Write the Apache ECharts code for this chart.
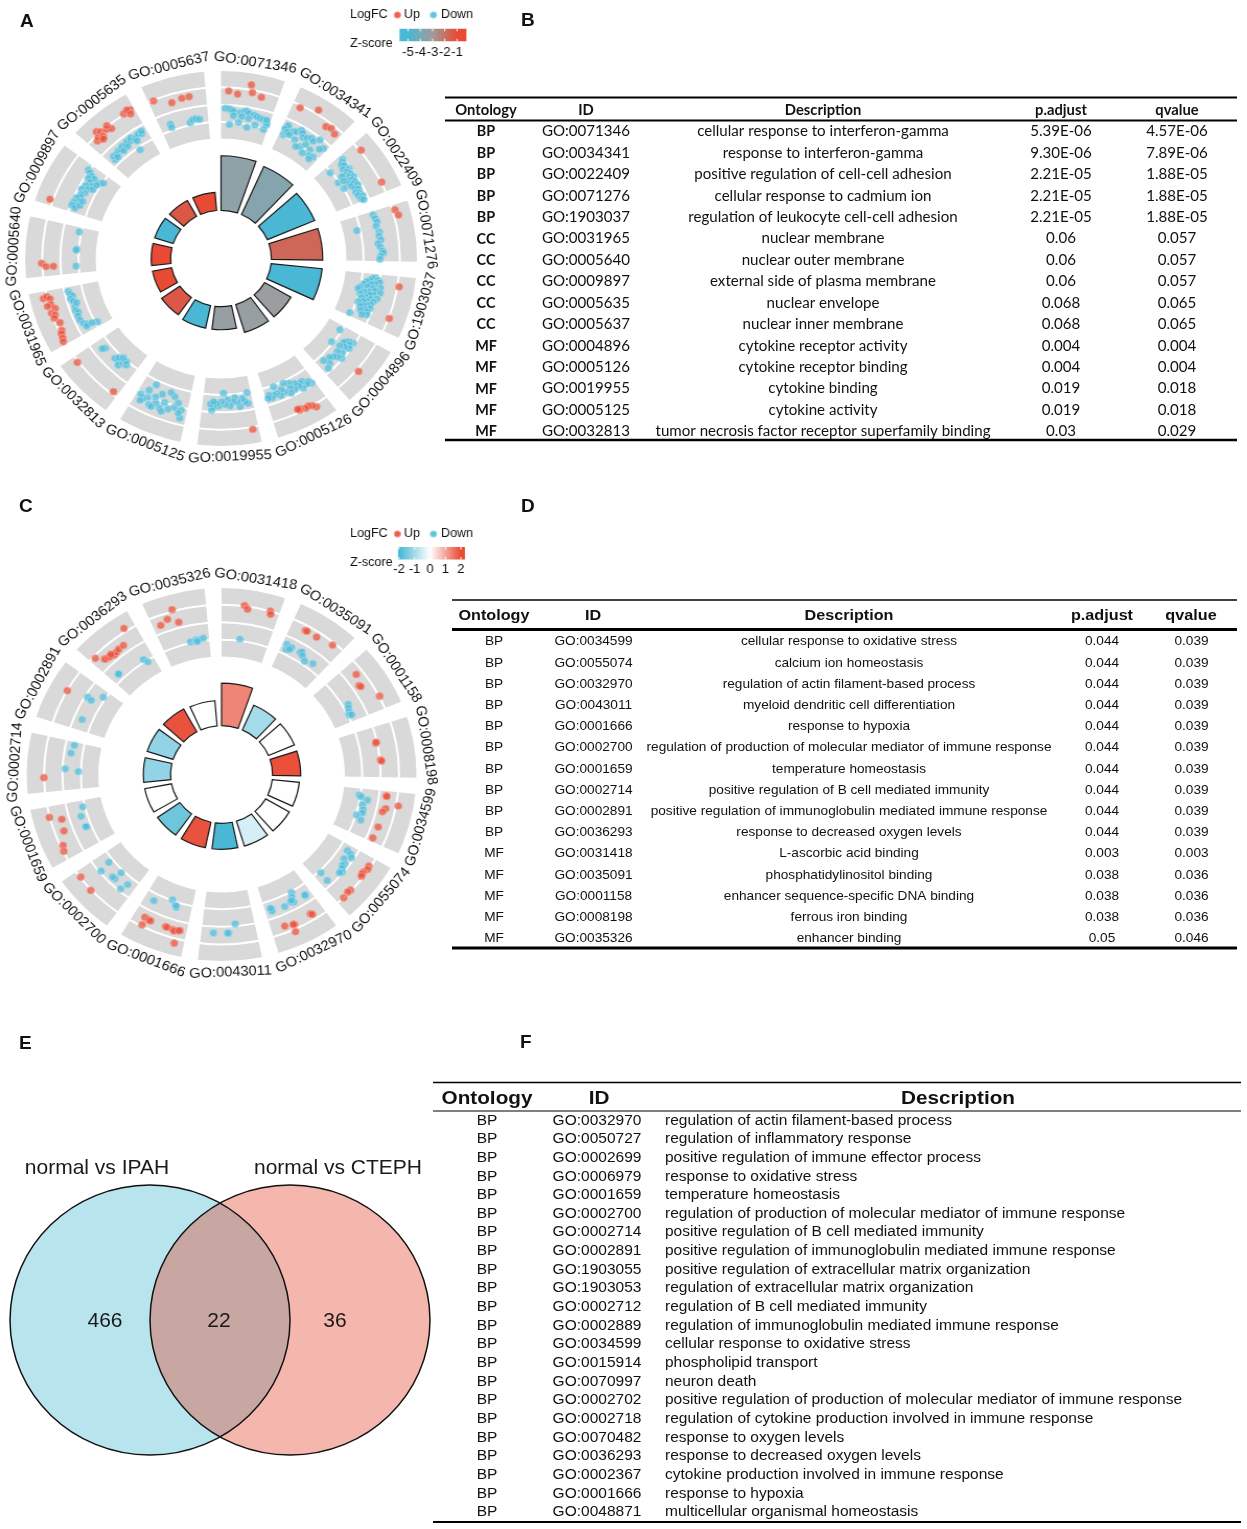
<!DOCTYPE html>
<html><head><meta charset="utf-8">
<script src="https://cdn.jsdelivr.net/npm/echarts@6/dist/echarts.min.js"></script>
<style>
html,body{margin:0;padding:0;background:#fff}
#c{position:absolute;left:0;top:0;width:1247px;height:1529px}
.ov{position:absolute;left:0;width:460px;height:490px;transform:scaleX(1.045);transform-origin:0 0}
#pa{top:0}
#pc{top:500px}
</style>
</head><body><div id="c"></div><div id="pa" class="ov"></div><div id="pc" class="ov"></div>
<script>
// ---------------- DATA ----------------
// Panel A circle order (clockwise from top)
const idsA = ['GO:0071346','GO:0034341','GO:0022409','GO:0071276','GO:1903037','GO:0004896','GO:0005126','GO:0019955','GO:0005125','GO:0032813','GO:0031965','GO:0005640','GO:0009897','GO:0005635','GO:0005637'];
const zA = [-3.4,-3.6,-5,-1.7,-5,-3.1,-3.2,-3.2,-5,-1.35,-1,-1,-5,-1.35,-1];
// genes: [segment, position in segment 0..1, logFC (radial)]
const upA = [
[0,0.13,0.8],[0,0.29,0.66],[0,0.5,1.28],[0,0.54,0.85],[0,0.71,0.69],
[1,0.14,0.86],[1,0.43,1.24],[1,0.7,0.69],[1,0.79,0.79],[1,0.9,0.66],
[2,0.16,1.07],[2,0.82,1.03],
[3,0.09,1.13],[3,0.19,1.24],
[4,0.18,1.09],[4,0.76,1.04],
[5,0.56,1.13],
[6,0.23,1.18],[6,0.28,1.0],[6,0.34,0.91],[6,0.4,0.95],[6,0.48,0.85],[6,0.51,0.88],[6,0.53,0.8],
[7,0.1,1.14],
[9,0.89,1.07],[9,0.09,0.84],
[10,0.88,1.2],[10,0.9,1.0],[10,0.85,0.85],[10,0.75,0.9],[10,0.73,1.1],[10,0.66,0.73],[10,0.6,1.0],[10,0.55,0.85],[10,0.5,0.95],[10,0.39,0.76],[10,0.25,0.85],[10,0.2,0.95],[10,0.12,1.0],[10,0.06,1.07],
[11,0.23,1.03],[11,0.17,0.8],[11,0.17,0.39],
[12,0.1,1.17],
[13,0.25,1.17],[13,0.3,1.0],[13,0.4,0.9],[13,0.48,0.76],[13,0.45,1.05],[13,0.8,1.05],[13,0.93,1.06],[13,0.88,1.15],[13,0.9,0.85],[13,0.15,0.75],[13,0.2,0.85],[13,0.23,0.68],[13,0.28,0.72],[13,0.25,0.6],
[14,0.09,0.95],[14,0.38,0.52],[14,0.57,0.62],[14,0.7,0.63]
];
const downA = [
[0,0.08,-0.2],[0,0.15,-0.22],[0,0.2,-0.28],[0,0.25,-0.35],[0,0.38,-0.4],[0,0.45,-0.3],[0,0.5,-0.25],[0,0.55,-0.35],[0,0.65,-0.4],[0,0.72,-0.45],[0,0.78,-0.5],[0,0.85,-0.52],[0,0.93,-0.6],[0,0.95,-0.75],[0,0.18,-1.12],[0,0.37,-0.95],[0,0.56,-1.17],[0,0.72,-0.95],[0,0.92,-1.06],[0,0.92,-0.5],[0,0.56,-0.65],[0,0.42,-0.6],[0,0.25,-0.6],
[1,0.09,-0.46],[1,0.1,-0.35],[1,0.07,-0.6],[1,0.09,-0.95],[1,0.14,-0.7],[1,0.24,-0.53],[1,0.2,-0.8],[1,0.3,-0.45],[1,0.37,-0.25],[1,0.42,-0.35],[1,0.47,-0.55],[1,0.55,-0.45],[1,0.62,-0.32],[1,0.68,-0.4],[1,0.77,-0.12],[1,0.53,-1.08],[1,0.6,-0.8],[1,0.74,-0.91],[1,0.8,-1.2],[1,0.89,-1.1],[1,0.85,-1.35],[1,0.93,-0.37],[1,0.88,-0.55],[1,0.35,-0.9],[1,0.45,-1.2],[1,0.65,-1.3],
[2,0.08,-0.05],[2,0.12,-0.15],[2,0.15,-0.3],[2,0.2,-0.2],[2,0.25,-0.4],[2,0.3,-0.1],[2,0.33,-0.3],[2,0.37,-0.5],[2,0.4,-0.2],[2,0.44,-0.35],[2,0.48,-0.15],[2,0.5,-0.45],[2,0.52,-0.3],[2,0.55,-0.6],[2,0.58,-0.25],[2,0.6,-0.4],[2,0.63,-0.55],[2,0.66,-0.2],[2,0.7,-0.45],[2,0.74,-0.3],[2,0.78,-0.5],[2,0.82,-0.35],[2,0.86,-0.45],[2,0.9,-0.25],[2,0.94,-0.4],[2,0.98,-0.3],[2,0.14,-1.07],[2,0.42,-1.06],[2,0.59,-0.96],[2,0.35,-0.7],[2,0.45,-0.75],
[3,0.07,-0.1],[3,0.15,-0.05],[3,0.22,0.0],[3,0.3,-0.1],[3,0.42,0.0],[3,0.5,-0.05],[3,0.58,0.02],[3,0.65,-0.15],[3,0.72,-0.05],[3,0.8,0.05],[3,0.84,0.1],[3,0.9,-0.05],[3,0.96,-0.1],[3,0.31,-1.2],
[4,0.08,-0.3],[4,0.1,-0.4],[4,0.12,-0.1],[4,0.14,-0.55],[4,0.16,0.0],[4,0.18,-0.7],[4,0.2,-0.25],[4,0.22,-0.45],[4,0.24,-0.85],[4,0.26,0.1],[4,0.28,-0.6],[4,0.3,-0.3],[4,0.32,-1.0],[4,0.34,-0.15],[4,0.36,0.14],[4,0.36,-1.1],[4,0.38,-0.5],[4,0.4,-0.75],[4,0.42,-0.2],[4,0.44,-0.4],[4,0.46,-0.93],[4,0.48,0.05],[4,0.5,-0.6],[4,0.52,-0.3],[4,0.54,-0.8],[4,0.56,-0.1],[4,0.58,-0.45],[4,0.6,-0.65],[4,0.62,-0.2],[4,0.64,-0.9],[4,0.66,-0.35],[4,0.68,-0.55],[4,0.7,-0.15],[4,0.72,-0.7],[4,0.75,-0.4],[4,0.78,-0.25],[4,0.8,-0.6],[4,0.84,-0.2],[4,0.87,-0.45],[4,0.93,-1.1],
[5,0.11,-1.12],[5,0.2,-0.08],[5,0.22,-0.3],[5,0.25,-0.43],[5,0.27,-0.2],[5,0.3,-0.55],[5,0.33,-0.1],[5,0.36,-0.35],[5,0.4,-0.6],[5,0.43,-1.1],[5,0.48,-0.25],[5,0.52,-0.5],[5,0.57,-0.06],[5,0.6,-0.3],[5,0.65,-0.47],[5,0.72,-0.6],[5,0.8,-0.35],[5,0.89,-0.2],[5,0.85,-0.7],
[6,0.06,-0.1],[6,0.1,-0.3],[6,0.15,-0.2],[6,0.2,-0.5],[6,0.25,-0.45],[6,0.25,-0.11],[6,0.3,-0.35],[6,0.35,-0.6],[6,0.4,-0.3],[6,0.45,-0.75],[6,0.47,-0.46],[6,0.5,-0.2],[6,0.55,-0.89],[6,0.6,-0.4],[6,0.65,-0.6],[6,0.7,-0.3],[6,0.76,-0.5],[6,0.77,-0.93],[6,0.82,-0.45],[6,0.88,-0.35],[6,0.92,-0.55],[6,0.95,-0.39],
[7,0.08,-1.0],[7,0.1,-0.38],[7,0.15,-0.5],[7,0.2,-0.7],[7,0.26,-0.26],[7,0.3,-0.55],[7,0.35,-0.8],[7,0.39,-0.58],[7,0.45,-0.35],[7,0.5,-0.7],[7,0.55,-0.45],[7,0.58,-1.09],[7,0.62,-0.6],[7,0.68,-0.35],[7,0.72,-0.5],[7,0.78,-0.31],[7,0.81,-0.11],[7,0.84,-0.45],[7,0.78,-0.6],
[8,0.1,0.62],[8,0.11,0.14],[8,0.15,0.35],[8,0.2,-0.2],[8,0.25,0.1],[8,0.3,-0.5],[8,0.35,0.3],[8,0.4,-0.66],[8,0.45,0.0],[8,0.5,0.4],[8,0.55,-0.4],[8,0.6,0.2],[8,0.65,-0.1],[8,0.7,0.45],[8,0.74,-0.75],[8,0.78,0.1],[8,0.82,-0.3],[8,0.85,0.3],[8,0.88,0.44],[8,0.92,0.1],[8,0.65,0.5],[8,0.45,0.55],
[9,0.79,-0.64],[9,0.82,-0.5],[9,0.4,-0.64],[9,0.5,-0.66],[9,0.45,-0.85],[9,0.35,-0.5],[9,0.3,-0.75],[9,0.23,-0.8],[9,0.28,-0.95],[9,0.38,-1.0],
[10,0.91,-0.22],[10,0.85,-0.3],[10,0.8,-0.4],[10,0.75,-0.25],[10,0.7,-0.35],[10,0.58,-0.35],[10,0.5,-0.3],[10,0.45,-0.4],[10,0.38,-0.3],[10,0.29,-0.31],[10,0.2,-0.4],[10,0.15,-0.6],[10,0.12,-0.49],[10,0.1,-1.13],[10,0.13,-0.85],[10,0.65,-0.5],
[11,0.9,-0.89],[11,0.52,-0.89],[11,0.5,-0.85],[11,0.15,-0.85],
[12,0.89,0.06],[12,0.86,-0.1],[12,0.82,-0.3],[12,0.79,-0.9],[12,0.83,-1.06],[12,0.8,-0.5],[12,0.75,-0.2],[12,0.7,-0.4],[12,0.65,-0.6],[12,0.6,-0.3],[12,0.55,-0.5],[12,0.5,-0.2],[12,0.45,-0.45],[12,0.4,-0.3],[12,0.35,-0.3],[12,0.3,-0.15],[12,0.25,-0.35],[12,0.2,-0.1],[12,0.15,-0.25],[12,0.13,-0.07],[12,0.1,-0.3],[12,0.18,-0.5],[12,0.28,-0.55],[12,0.6,-0.75],[12,0.72,-0.8],
[13,0.12,-0.71],[13,0.15,-0.5],[13,0.22,-0.55],[13,0.3,-0.45],[13,0.35,-0.5],[13,0.41,-0.4],[13,0.48,-0.45],[13,0.55,-0.35],[13,0.6,-0.45],[13,0.65,-0.3],[13,0.7,-0.5],[13,0.76,-0.44],[13,0.82,-0.35],[13,0.88,-0.45],[13,0.9,-0.3],[13,0.66,-1.17],[13,0.5,-0.6],[13,0.38,-0.65],[13,0.2,-0.7],[13,0.72,-0.65],
[14,0.22,-0.63],[14,0.22,-0.83],[14,0.62,-0.85],[14,0.68,-0.7],[14,0.75,-0.68],[14,0.82,-0.75]
];

// Panel C circle order
const idsC = ['GO:0031418','GO:0035091','GO:0001158','GO:0008198','GO:0034599','GO:0055074','GO:0032970','GO:0043011','GO:0001666','GO:0002700','GO:0001659','GO:0002714','GO:0002891','GO:0036293','GO:0035326'];
const zC = [1.35,-1.0,0,1.95,0,0,-0.45,-2,1.9,-1.6,0,-1.2,-1.2,1.9,0];
const upC = [
[0,0.39,1.03],[0,0.45,0.85],[0,0.84,1.0],[0,0.86,0.83],
[1,0.27,0.71],[1,0.3,0.72],[1,0.5,0.71],[1,0.81,0.86],
[2,0.22,0.62],[2,0.42,0.37],[2,0.45,0.42],[2,0.77,1.03],
[3,0.32,-0.08],[3,0.3,-0.05],[3,0.66,0.04],[3,0.68,0.08],
[4,0.09,0.39],[4,0.1,0.42],[4,0.24,1.12],[4,0.33,0.48],[4,0.4,0.35],[4,0.7,0.37],[4,0.93,0.33],
[5,0.16,0.9],[5,0.22,0.95],[5,0.3,0.85],[5,0.34,0.84],[5,0.38,0.9],[5,0.69,0.96],[5,0.75,0.92],[5,0.87,1.0],
[6,0.24,0.62],[6,0.22,0.7],[6,0.58,0.74],[6,0.6,0.72],[6,0.75,0.62],[6,0.62,1.14],
[8,0.8,0.47],[8,0.72,0.5],[8,0.68,0.52],[8,0.78,0.92],[8,0.39,0.51],[8,0.36,0.52],[8,0.25,0.55],[8,0.22,0.6],[8,0.12,0.5],[8,0.14,0.52],[8,0.16,1.27],
[9,0.88,0.97],[9,0.59,1.04],
[10,0.81,1.02],[10,0.72,0.4],[10,0.5,0.5],[10,0.26,0.86],[10,0.16,0.97],
[11,0.26,1.01],
[12,0.61,0.99],
[13,0.81,1.2],[13,0.1,0.87],[13,0.2,0.49],[13,0.22,0.45],[13,0.28,0.4],[13,0.32,0.38],[13,0.39,0.3],[13,0.45,0.35],[13,0.52,0.4],[13,0.63,0.42],[13,0.35,0.45],
[14,0.42,1.09],[14,0.29,0.64],[14,0.14,0.44],[14,0.47,0.31]
];
const downC = [
[0,0.39,-0.9],
[1,0.09,-0.45],[1,0.12,-0.72],[1,0.15,-0.55],[1,0.2,-0.5],[1,0.18,-0.65],[1,0.4,-0.5],[1,0.43,-0.43],[1,0.48,-0.6],[1,0.58,-0.78],[1,0.75,-0.63],
[2,0.63,-0.69],[2,0.7,-0.78],[2,0.78,-0.85],[2,0.84,-0.92],[2,0.86,-0.8],
[4,0.15,-1.07],[4,0.18,-0.95],[4,0.23,-0.58],[4,0.35,-0.8],[4,0.45,-0.7],[4,0.52,-0.69],[4,0.6,-0.95],[4,0.68,-0.65],
[5,0.12,-0.56],[5,0.15,-0.3],[5,0.2,-0.15],[5,0.3,-0.45],[5,0.38,-0.25],[5,0.43,-0.3],[5,0.48,-0.2],[5,0.54,-0.06],[5,0.84,-0.88],[5,0.86,-0.33],[5,0.58,-0.15],
[6,0.34,-0.94],[6,0.38,-0.7],[6,0.13,-0.39],[6,0.13,-0.45],[6,0.4,-0.4],[6,0.45,-0.5],[6,0.42,-0.55],[6,0.6,-0.4],[6,0.86,-0.53],[6,0.87,-0.42],[6,0.88,-0.6],
[7,0.78,0.36],[7,0.5,0.36],[7,0.52,0.37],[7,0.37,-0.13],
[8,0.8,-0.59],[8,0.45,-1.05],[8,0.32,-0.71],[8,0.34,-0.8],
[9,0.78,-0.75],[9,0.74,-0.11],[9,0.44,-0.37],[9,0.5,-0.35],[9,0.44,-0.84],[9,0.22,-0.15],[9,0.17,-0.58],
[10,0.86,-0.88],[10,0.67,-0.65],[10,0.42,-0.73],[10,0.43,-0.7],
[11,0.93,-0.48],[11,0.76,-0.38],[11,0.43,-0.15],[11,0.38,-0.86],
[12,0.69,-0.15],[12,0.67,-0.4],[12,0.86,-0.86],[12,0.23,-0.45],
[13,0.79,-0.86],[13,0.84,-1.1],[13,0.18,-0.67],[13,0.19,-0.65],
[14,0.6,-0.93],[14,0.72,-0.88],[14,0.77,-0.91],[14,0.88,-0.84],[14,0.74,-0.98]
];

// Table B
const ontB = ['BP','BP','BP','BP','BP','CC','CC','CC','CC','CC','MF','MF','MF','MF','MF'];
const idB = ['GO:0071346','GO:0034341','GO:0022409','GO:0071276','GO:1903037','GO:0031965','GO:0005640','GO:0009897','GO:0005635','GO:0005637','GO:0004896','GO:0005126','GO:0019955','GO:0005125','GO:0032813'];
const descB = ['cellular response to interferon-gamma','response to interferon-gamma','positive regulation of cell-cell adhesion','cellular response to cadmium ion','regulation of leukocyte cell-cell adhesion','nuclear membrane','nuclear outer membrane','external side of plasma membrane','nuclear envelope','nuclear inner membrane','cytokine receptor activity','cytokine receptor binding','cytokine binding','cytokine activity','tumor necrosis factor receptor superfamily binding'];
const padjB = ['5.39E-06','9.30E-06','2.21E-05','2.21E-05','2.21E-05','0.06','0.06','0.06','0.068','0.068','0.004','0.004','0.019','0.019','0.03'];
const qvalB = ['4.57E-06','7.89E-06','1.88E-05','1.88E-05','1.88E-05','0.057','0.057','0.057','0.065','0.065','0.004','0.004','0.018','0.018','0.029'];
// Table D
const ontD = ['BP','BP','BP','BP','BP','BP','BP','BP','BP','BP','MF','MF','MF','MF','MF'];
const idD = ['GO:0034599','GO:0055074','GO:0032970','GO:0043011','GO:0001666','GO:0002700','GO:0001659','GO:0002714','GO:0002891','GO:0036293','GO:0031418','GO:0035091','GO:0001158','GO:0008198','GO:0035326'];
const descD = ['cellular response to oxidative stress','calcium ion homeostasis','regulation of actin filament-based process','myeloid dendritic cell differentiation','response to hypoxia','regulation of production of molecular mediator of immune response','temperature homeostasis','positive regulation of B cell mediated immunity','positive regulation of immunoglobulin mediated immune response','response to decreased oxygen levels','L-ascorbic acid binding','phosphatidylinositol binding','enhancer sequence-specific DNA binding','ferrous iron binding','enhancer binding'];
const padjD = ['0.044','0.044','0.044','0.044','0.044','0.044','0.044','0.044','0.044','0.044','0.003','0.038','0.038','0.038','0.05'];
const qvalD = ['0.039','0.039','0.039','0.039','0.039','0.039','0.039','0.039','0.039','0.039','0.003','0.036','0.036','0.036','0.046'];
// Table F
const idF = ['GO:0032970','GO:0050727','GO:0002699','GO:0006979','GO:0001659','GO:0002700','GO:0002714','GO:0002891','GO:1903055','GO:1903053','GO:0002712','GO:0002889','GO:0034599','GO:0015914','GO:0070997','GO:0002702','GO:0002718','GO:0070482','GO:0036293','GO:0002367','GO:0001666','GO:0048871'];
const descF = ['regulation of actin filament-based process','regulation of inflammatory response','positive regulation of immune effector process','response to oxidative stress','temperature homeostasis','regulation of production of molecular mediator of immune response','positive regulation of B cell mediated immunity','positive regulation of immunoglobulin mediated immune response','positive regulation of extracellular matrix organization','regulation of extracellular matrix organization','regulation of B cell mediated immunity','regulation of immunoglobulin mediated immune response','cellular response to oxidative stress','phospholipid transport','neuron death','positive regulation of production of molecular mediator of immune response','regulation of cytokine production involved in immune response','response to oxygen levels','response to decreased oxygen levels','cytokine production involved in immune response','response to hypoxia','multicellular organismal homeostasis'];
const ontF = idF.map(() => 'BP');
// Venn
const vennSets = ['normal vs IPAH', 'normal vs CTEPH'];
const vennCenters = [0, 1];     // set circle centres (unit = radius)
const vennCounts = [466, 22, 36];
const zTicksA = [-5,-4,-3,-2,-1];
const zTicksC = [-2,-1,0,1,2];

// ---------------- LAYOUT ----------------
const SEG = 24, SPAN = 19;
const CYAN = '#4ab8d5', RED = '#e84a34';
const mctx = document.createElement('canvas').getContext('2d');
function fit(ref, size, weight, family, target) {
  mctx.font = weight + ' ' + size + 'px ' + family;
  return target / mctx.measureText(ref).width;
}
function mkT(G) {
  return function (x, y, text, o) {
    o = o || {};
    G.push({type:'text', x:x, y:y, scaleX:o.sx || 1, rotation:o.rot || 0, silent:true, z:20,
      style:{text:String(text), fontSize:o.size || 14, fontFamily:o.family || 'Liberation Sans',
        fontWeight:o.weight || 'normal', fill:o.color || '#111',
        align:o.align || 'left', textAlign:o.align || 'left', verticalAlign:'middle', textVerticalAlign:'middle'}});
  };
}

// geometry (local, un-stretched units; the panel div is stretched horizontally like the figure)
function circleOption(cfg) {
  const G = [], T = mkT(G);
  const polar = [], angleAxis = [], radiusAxis = [], series = [];
  const c = cfg.center;
  polar.push({center:c, radius:[cfg.rIn, cfg.rOut]});
  angleAxis.push({polarIndex:0, type:'value', min:0, max:360, startAngle:90, clockwise:true, show:false});
  radiusAxis.push({polarIndex:0, type:'value', min:-2, max:2, interval:1, z:1,
    axisLine:{show:false}, axisTick:{show:false}, axisLabel:{show:false},
    splitLine:{show:true, showMinLine:false, showMaxLine:false, lineStyle:{color:'#fff', width:2}}});
  polar.push({center:c, radius:[cfg.rBase, cfg.rBase + cfg.barUnit * cfg.barMax]});
  angleAxis.push({polarIndex:1, type:'category', data:cfg.ids, startAngle:90 + (SEG-SPAN)/2, clockwise:true, show:false});
  radiusAxis.push({polarIndex:1, type:'value', min:0, max:cfg.barMax, show:false});
  series.push({type:'pie', center:c, radius:[cfg.rIn, cfg.rOut], startAngle:90, clockwise:true, silent:true, z:0,
    label:{show:false}, labelLine:{show:false}, emphasis:{disabled:true},
    data: cfg.ids.flatMap(id => [{value:SPAN, name:id, itemStyle:{color:'#d9d9d9', borderWidth:0}},
                                 {value:SEG-SPAN, name:'', itemStyle:{color:'rgba(0,0,0,0)', borderWidth:0}}])});
  series.push({type:'bar', coordinateSystem:'polar', polarIndex:1, barWidth:(SPAN/SEG*100).toFixed(1)+'%', silent:true, z:3,
    itemStyle:{borderColor:'#1a1a1a', borderWidth:1.2,
      color: p => echarts.color.lerp((cfg.z[p.dataIndex]-cfg.zMin)/(cfg.zMax-cfg.zMin), cfg.zColors)},
    data: cfg.bars.map(v => v + cfg.barOff)});
  series.push({type:'scatter', coordinateSystem:'polar', polarIndex:0, symbolSize:7.2, silent:true, z:4,
    itemStyle:{color:'rgba(232,80,60,0.9)', borderColor:'rgba(250,165,150,0.95)', borderWidth:1},
    data: cfg.up.map(d => [d[2], SEG*d[0] + SPAN*d[1]])});
  series.push({type:'scatter', coordinateSystem:'polar', polarIndex:0, symbolSize:7.2, silent:true, z:4,
    itemStyle:{color:'rgba(80,188,218,0.9)', borderColor:'rgba(165,222,238,0.95)', borderWidth:1},
    data: cfg.down.map(d => [d[2], SEG*d[0] + SPAN*d[1]])});
  cfg.ids.forEach((id, i) => {
    const th = SEG * i + SPAN / 2, rad = th * Math.PI / 180;
    const x = c[0] + cfg.rLabel * Math.sin(rad), y = c[1] - cfg.rLabel * Math.cos(rad);
    const rot = (th > 90 && th < 270) ? (180 - th) : -th;
    T(x, y, id, {size:14, align:'center', rot:rot * Math.PI / 180, color:'#111'});
  });
  // legend
  const lg = cfg.legend, y0 = lg.y;
  T(335, y0, 'LogFC', {size:12});
  G.push({type:'circle', silent:true, z:20, shape:{cx:380.3, cy:y0, r:3.2}, style:{fill:'rgba(232,80,60,0.9)', stroke:'rgba(250,165,150,1)', lineWidth:1}});
  T(386.6, y0, 'Up', {size:12});
  G.push({type:'circle', silent:true, z:20, shape:{cx:414.8, cy:y0, r:3.2}, style:{fill:'rgba(80,188,218,0.9)', stroke:'rgba(165,222,238,1)', lineWidth:1}});
  T(422, y0, 'Down', {size:12});
  T(335, lg.zy, 'Z-score', {size:12});
  G.push({type:'rect', silent:true, z:20, shape:{x:lg.gx, y:lg.gy, width:64, height:12.5},
    style:{fill:{type:'linear', x:0, y:0, x2:1, y2:0, colorStops:lg.stops}}});
  lg.ticks.forEach((t, i) => {
    const tx = lg.tickX[i];
    G.push({type:'line', silent:true, z:21, shape:{x1:tx, y1:lg.gy, x2:tx, y2:lg.gy+2.5}, style:{stroke:'#fff', lineWidth:1}});
    G.push({type:'line', silent:true, z:21, shape:{x1:tx, y1:lg.gy+10, x2:tx, y2:lg.gy+12.5}, style:{stroke:'#fff', lineWidth:1}});
    T(tx, lg.ty, t, {size:12.5, align:'center'});
  });
  return {animation:false, polar, angleAxis, radiusAxis, series, graphic:{elements:G}};
}
const barA = idsA.map(id => -Math.log10(parseFloat(padjB[idB.indexOf(id)])));
const barC = idsC.map(id => -Math.log10(parseFloat(padjD[idD.indexOf(id)])));
const optA = circleOption({ids:idsA, bars:barA, z:zA, zMin:-5, zMax:-1, zColors:[CYAN, '#a09c9c', RED], up:upA, down:downA,
  center:[211.5, 258.5], rOut:188.5, rIn:119, rBase:48.2, barOff:0.87, barUnit:8.89, barMax:7, rLabel:198.5,
  legend:{y:15, zy:44, ty:52.5, gx:382.3, gy:28.8, ticks:zTicksA, tickX:[390.4, 402.2, 413.9, 425.6, 437.3],
    stops:[{offset:0, color:CYAN},{offset:0.12, color:CYAN},{offset:0.49, color:'#a09c9c'},{offset:0.86, color:RED},{offset:1, color:RED}]}});
const optC = circleOption({ids:idsC, bars:barC, z:zC, zMin:-2, zMax:2, zColors:[CYAN, '#ffffff', RED], up:upC, down:downC,
  center:[212, 274.5], rOut:187.5, rIn:117, rBase:48.8, barOff:0.49, barUnit:14.1, barMax:3.5, rLabel:198,
  legend:{y:34, zy:63, ty:70, gx:380.9, gy:47, ticks:zTicksC, tickX:[381.8, 396.7, 411.5, 426.3, 441.1],
    stops:[{offset:0, color:CYAN},{offset:0.02, color:CYAN},{offset:0.48, color:'#ffffff'},{offset:0.94, color:RED},{offset:1, color:RED}]}});

// ---------------- main page chart (letters, tables, Venn) ----------------
const G = [], T = mkT(G);
function L(x1, y1, x2, y2, w) {
  G.push({type:'line', silent:true, z:20, shape:{x1:x1,y1:y1,x2:x2,y2:y2}, style:{stroke:'#000', lineWidth:w}});
}
[['A',20,21.5],['B',521,20.5],['C',19,506.5],['D',521,506.5],['E',19,1043.5],['F',520,1043]].forEach(l => T(l[1], l[2], l[0], {size:19, weight:'bold'}));

// Table B
(function(){
  const fam = 'Lato';
  const sx = fit('tumor necrosis factor receptor superfamily binding', 14.5, 'normal', fam, 335);
  const sxh = fit('Description', 15.5, 'bold', fam, 76);
  const sxo = fit('Ontology', 15.5, 'bold', fam, 62);
  L(445, 97.5, 1237, 97.5, 2); L(445, 120.5, 1237, 120.5, 2); L(445, 440, 1237, 440, 2.5);
  const hx = [486, 586, 823, 1061, 1177], hy = 109.5;
  ['Ontology','ID','Description','p.adjust','qvalue'].forEach((h, i) => T(hx[i], hy, h, {size:15.5, weight:'bold', family:fam, align:'center', sx:(sxh+sxo)/2}));
  for (let i = 0; i < idB.length; i++) {
    const y = 131.6 + i * 21.43;
    T(486, y, ontB[i], {size:15, weight:'bold', family:fam, align:'center', sx:sxo});
    T(586, y, idB[i], {size:14.5, family:fam, align:'center', sx:sx});
    T(823, y, descB[i], {size:14.5, family:fam, align:'center', sx:sx});
    T(1061, y, padjB[i], {size:14.5, family:fam, align:'center', sx:sx});
    T(1177, y, qvalB[i], {size:14.5, family:fam, align:'center', sx:sx});
  }
})();
// Table D
(function(){
  const fam = 'Liberation Sans';
  const sx = fit('regulation of production of molecular mediator of immune response', 13.5, 'normal', fam, 405);
  const sxh = fit('Description', 15.5, 'bold', fam, 89);
  L(452, 600, 1237, 600, 1.5); L(452, 629.5, 1237, 629.5, 3); L(452, 948, 1237, 948, 3);
  const hx = [494, 593, 849, 1102, 1191], hy = 616;
  ['Ontology','ID','Description','p.adjust','qvalue'].forEach((h, i) => T(hx[i], hy, h, {size:15.5, weight:'bold', family:fam, align:'center', sx:sxh}));
  for (let i = 0; i < idD.length; i++) {
    const y = 641.7 + i * 21.19;
    T(494, y, ontD[i], {size:13.5, family:fam, align:'center', sx:sx});
    T(593.5, y, idD[i], {size:13.5, family:fam, align:'center', sx:sx});
    T(849, y, descD[i], {size:13.5, family:fam, align:'center', sx:sx});
    T(1102, y, padjD[i], {size:13.5, family:fam, align:'center', sx:sx});
    T(1191.5, y, qvalD[i], {size:13.5, family:fam, align:'center', sx:sx});
  }
})();
// Table F
(function(){
  const fam = 'Liberation Sans';
  const sx = fit('positive regulation of production of molecular mediator of immune response', 14, 'normal', fam, 517);
  const sxh = fit('Description', 19, 'bold', fam, 114);
  L(433, 1082.5, 1241, 1082.5, 1.5); L(433, 1111, 1241, 1111, 1.2); L(433, 1522, 1241, 1522, 2.2);
  T(487, 1099, 'Ontology', {size:19, weight:'bold', family:fam, align:'center', sx:sxh});
  T(599, 1099, 'ID', {size:19, weight:'bold', family:fam, align:'center', sx:sxh});
  T(958, 1099, 'Description', {size:19, weight:'bold', family:fam, align:'center', sx:sxh});
  for (let i = 0; i < idF.length; i++) {
    const y = 1120.7 + i * 18.65;
    T(487, y, ontF[i], {size:14, family:fam, align:'center', sx:sx});
    T(597, y, idF[i], {size:14, family:fam, align:'center', sx:sx});
    T(665, y, descF[i], {size:14, family:fam, align:'left', sx:sx});
  }
})();
// Venn texts
T(97, 1168, vennSets[0], {size:21, align:'center', color:'#1a1a1a'});
T(338, 1168, vennSets[1], {size:21, align:'center', color:'#1a1a1a'});
[105, 219, 335].forEach((x, i) => T(x, 1321, vennCounts[i], {size:21, align:'center', color:'#1a1a1a'}));
const vennFill = ['#b8e4ee', 'rgba(228,60,33,0.37)'];
const vennSeries = [
 {type:'custom', coordinateSystem:'cartesian2d', silent:true, z:2,
  data: vennCenters.map(c => [c, 0, 1]),
  renderItem: (params, api) => {
    const c = api.coord([api.value(0), api.value(1)]);
    const s = api.size([api.value(2), api.value(2)]);
    return {type:'ellipse', shape:{cx:c[0], cy:c[1], rx:s[0], ry:s[1]}, style:{fill:vennFill[params.dataIndex], stroke:null}};
  }},
 {type:'custom', coordinateSystem:'cartesian2d', silent:true, z:3,
  data: vennCenters.map(c => [c, 0, 1]),
  renderItem: (params, api) => {
    const c = api.coord([api.value(0), api.value(1)]);
    const s = api.size([api.value(2), api.value(2)]);
    return {type:'ellipse', shape:{cx:c[0], cy:c[1], rx:s[0], ry:s[1]}, style:{fill:null, stroke:'#111', lineWidth:1.5}};
  }}];

echarts.init(document.getElementById('c')).setOption({
  animation:false, backgroundColor:'#fff',
  grid:[{left:10, top:1185, width:420, height:270}],
  xAxis:[{type:'value', min:-1, max:2, show:false}],
  yAxis:[{type:'value', min:-1, max:1, show:false}],
  series: vennSeries,
  graphic:{elements:G}
});
echarts.init(document.getElementById('pa')).setOption(optA);
echarts.init(document.getElementById('pc')).setOption(optC);
</script></body></html>
